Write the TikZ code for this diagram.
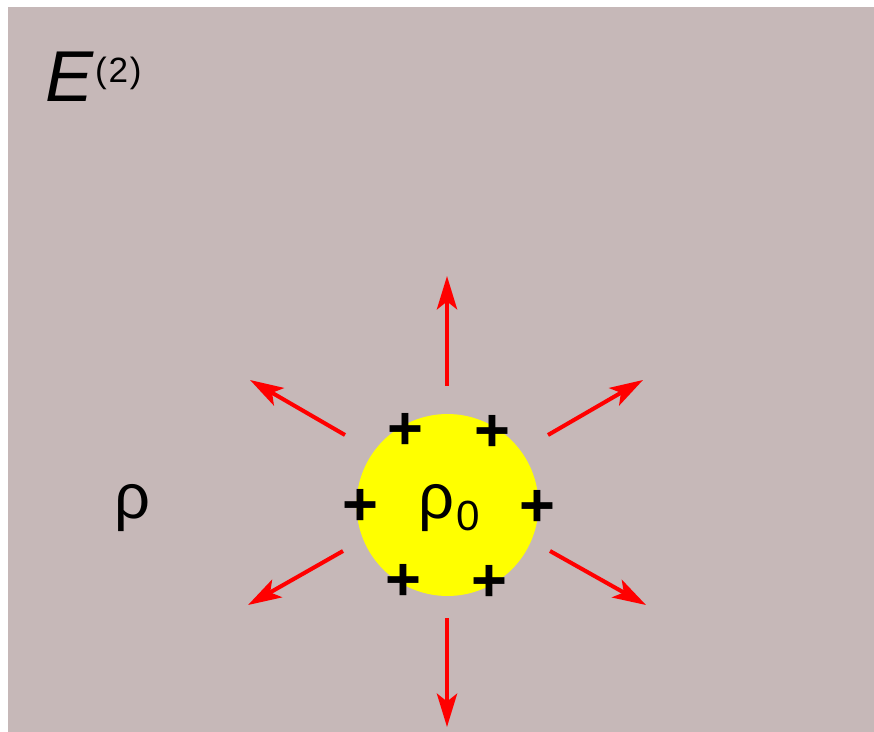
\documentclass[tikz,border=0pt]{standalone}
\usepackage{fontspec}
\setmainfont{Liberation Sans}
\usetikzlibrary{arrows.meta}

\definecolor{bgmauve}{RGB}{198,184,184}
\definecolor{sphere}{RGB}{255,255,0}
\definecolor{fieldred}{RGB}{255,0,0}

\begin{document}
\begin{tikzpicture}[
  x=0.02cm, y=-0.02cm,
  font=\fontsize{36pt}{40pt}\selectfont,
  field/.style={fieldred, line width=2.3pt, -{Stealth[length=19pt,width=11.5pt,inset=4.5pt]}},
  charge/.style={inner sep=0pt, font=\fontsize{35pt}{40pt}\selectfont\bfseries},
  label/.style={inner sep=0pt, anchor=base west}
]

% Canvas: thin white margin top and left, mauve field region.
\useasboundingbox (0,0) rectangle (874,732);
\fill[white] (0,0) rectangle (874,732);
\fill[bgmauve] (8,7) rectangle (874,732);

% Title of the field.
\node[label] (title) at (45,102)
  {\fontsize{41pt}{44pt}\selectfont\itshape E\upshape\kern1pt\raisebox{11pt}{\fontsize{20pt}{22pt}\selectfont(\kern1pt2\kern1pt)}};

% Outer medium density.
\node[label] (rhoout) at (114,518) {ρ};

% --------------------------------------------------------------------------
% Charged sphere with surface charges.
% --------------------------------------------------------------------------
\coordinate (c) at (447.5,505);
\fill[sphere] (c) circle[radius=1.82cm];
\node[label] (rhoin) at (418,518) {ρ\kern1pt\raisebox{-7pt}{\fontsize{24pt}{26pt}\selectfont 0}};

\foreach \x/\y [count=\i] in {405/431, 492/433, 360/507, 537/508, 403/582, 489/583}
  \node[charge] (q\i) at (\x,\y) {+};

% --------------------------------------------------------------------------
% Radial field arrows.
% --------------------------------------------------------------------------
\coordinate (upS) at (447,386);  \coordinate (upE) at (447,276);
\coordinate (dnS) at (447,618);  \coordinate (dnE) at (447,727);
\coordinate (ulS) at (345,435);  \coordinate (ulE) at (250,380);
\coordinate (urS) at (548,435);  \coordinate (urE) at (643,380);
\coordinate (llS) at (343,551);  \coordinate (llE) at (248,605);
\coordinate (lrS) at (550,551);  \coordinate (lrE) at (646,605);

\foreach \d in {up,dn,ul,ur,ll,lr}
  \draw[field] (\d S) -- (\d E);

\end{tikzpicture}
\end{document}
